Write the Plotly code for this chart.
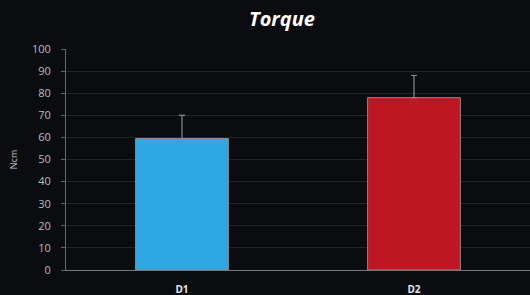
import plotly.graph_objects as go

categories = ["D1", "D2"]
values = [59.5, 78]
errors = [10.5, 10]
colors = ["#2ea8e2", "#be1622"]
yticks = [0, 10, 20, 30, 40, 50, 60, 70, 80, 90, 100]

fig = go.Figure()
fig.add_trace(go.Bar(
    x=categories, y=values, width=0.4,
    marker=dict(color=colors, line=dict(color="#8a8a8a", width=1)),
    error_y=dict(type="data", array=errors, symmetric=False, arrayminus=[0, 0],
                 color="#8a8a8a", thickness=1.2, width=3),
))
fig.update_layout(
    width=530, height=295,
    paper_bgcolor="#0b0c10", plot_bgcolor="#0b0c10",
    margin=dict(l=66, r=0, t=49, b=25),
    showlegend=False,
    title=dict(text="<b><i>Torque</i></b>", x=0.532, xanchor="center", y=0.935, yanchor="middle",
               font=dict(family="Open Sans", size=20, color="white")),
    xaxis=dict(range=[-0.5, 1.5], showgrid=False, showline=True, linecolor="#777777", linewidth=1,
               tickfont=dict(family="Open Sans", size=10, color="#e8e8e8"), ticks="",
               ticklabelstandoff=10),
    yaxis=dict(range=[0, 100], tickvals=yticks, showgrid=True, gridcolor="#232428", gridwidth=1,
               showline=True, linecolor="#666666", linewidth=1, zeroline=False,
               ticks="outside", ticklen=4, tickcolor="#666666", ticklabelstandoff=8,
               tickfont=dict(family="Open Sans", size=11, color="#bdbdbd"),
               title=dict(text="Ncm", font=dict(family="Open Sans", size=9, color="#bdbdbd"), standoff=12)),
)
fig.update_xaxes(tickprefix="<b>", ticksuffix="</b>")
fig.write_html("out.html", config={"displayModeBar": False},
               post_script="document.body.style.margin='0';document.body.style.background='#0b0c10';")
